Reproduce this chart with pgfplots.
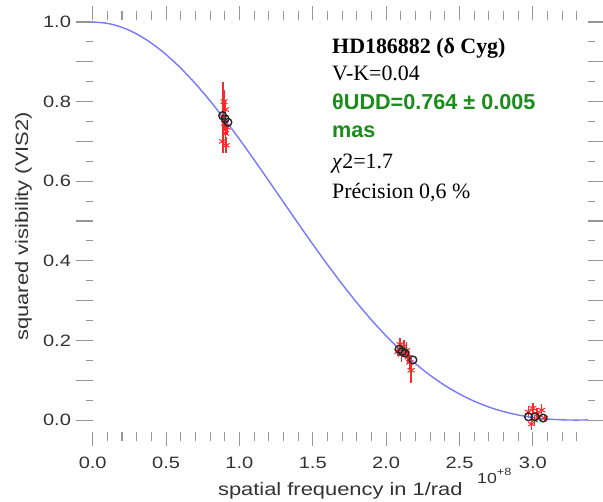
\documentclass[border=0pt]{standalone}
\usepackage{fontspec}
\setmainfont{Liberation Serif}
\newfontfamily\arial{Liberation Sans}
\newfontfamily\arialw[FakeStretch=1.22]{Liberation Sans}
\usepackage{pgfplots}
\pgfplotsset{compat=1.18}
\definecolor{curveblue}{RGB}{120,120,252}
\definecolor{tickgray}{RGB}{150,150,150}
\definecolor{labgray}{RGB}{50,50,50}
\definecolor{txtgreen}{RGB}{25,140,25}
\definecolor{datred}{RGB}{255,40,40}
\begin{document}
\begin{tikzpicture}
\begin{axis}[
  scale only axis, width=495.3bp, height=411.5bp,
  xmin=0, xmax=3.376, ymin=-0.030, ymax=1.0038,
  axis line style={draw=none},
  tick align=outside, tick pos=both,
  tick style={tickgray, line width=1.1bp},
  xtick={0,0.5,1.0,1.5,2.0,2.5,3.0},
  xticklabels={0.0,0.5,1.0,1.5,2.0,2.5,3.0},
  minor xtick={0.1,0.2,0.3,0.4,0.6,0.7,0.8,0.9,1.1,1.2,1.3,1.4,1.6,1.7,1.8,1.9,2.1,2.2,2.3,2.4,2.6,2.7,2.8,2.9,3.1,3.2,3.3},
  ytick={0,0.2,0.4,0.6,0.8,1.0},
  yticklabels={0.0,0.2,0.4,0.6,0.8,1.0},
  minor ytick={0.05,0.15,0.25,0.35,0.45,0.55,0.65,0.75,0.85,0.95},
  extra y ticks={0.1,0.3,0.5,0.7,0.9},
  extra y tick labels={},
  xtick style={/pgfplots/major tick length=14bp,/pgfplots/minor tick length=9bp},
  ytick style={/pgfplots/major tick length=17bp,/pgfplots/minor tick length=7bp},
  extra y tick style={/pgfplots/major tick length=12bp},
  xticklabel style={font=\arialw\fontsize{16.5}{16.5}\selectfont, text=labgray, yshift=-17.5bp},
  yticklabel style={font=\arialw\fontsize{16.5}{16.5}\selectfont, text=labgray, xshift=-14bp},
  xlabel={spatial frequency in 1/rad},
  ylabel={squared visibility (VIS2)},
  xlabel style={font=\arialw\fontsize{18}{18}\selectfont, text=labgray, at={(axis description cs:0.5,-0.1555)}, anchor=base},
  ylabel style={font=\arialw\fontsize{18}{18}\selectfont, text=labgray, at={(axis description cs:-0.1306,0.5)}, anchor=base, rotate=0},
]
\addplot[only marks, mark=asterisk, mark size=4bp, color=datred, mark options={draw=datred, line width=1bp},
  error bars/.cd, y dir=both, y explicit, error mark=none, error bar style={draw=datred, line width=1.6bp}]
  table[x=x, y=y, y error=e] {
x y e
0.890 0.760 0.090
0.895 0.800 0.030
0.885 0.700 0.025
0.905 0.720 0.030
0.900 0.745 0.020
0.915 0.735 0.020
0.905 0.780 0.025
0.910 0.690 0.020
2.080 0.172 0.012
2.095 0.190 0.015
2.105 0.165 0.020
2.120 0.185 0.015
2.140 0.175 0.020
2.150 0.158 0.015
2.170 0.125 0.032
2.160 0.145 0.020
2.970 0.020 0.015
2.990 -0.010 0.015
3.000 0.030 0.012
3.030 0.015 0.015
3.060 0.025 0.015
3.080 0.005 0.010
3.010 0.000 0.012
};
\addplot[curveblue, line width=1.4bp, smooth, no marks] table {
0 1.0
0.1 0.99662
0.2 0.98654
0.3 0.96992
0.4 0.94704
0.5 0.91830
0.6 0.88415
0.7 0.84516
0.8 0.80195
0.9 0.75520
1.0 0.70564
1.1 0.65401
1.2 0.60106
1.3 0.54754
1.4 0.49417
1.5 0.44164
1.6 0.39056
1.7 0.34153
1.8 0.29503
1.9 0.25150
2.0 0.21126
2.1 0.17458
2.2 0.14161
2.3 0.11245
2.4 0.08710
2.5 0.06548
2.6 0.04744
2.7 0.03280
2.8 0.02130
2.9 0.01266
3.0 0.00654
3.1 0.00263
3.2 0.00056
3.25 0.00012
3.29 0.0
3.33 0.00007
3.376 0.00041
};
\addplot[only marks, mark=o, mark size=3.8bp, mark options={draw=black!85, line width=1.4bp}] table {
0.885 0.765
0.903 0.757
0.922 0.748
2.088 0.178
2.110 0.172
2.129 0.168
2.183 0.151
2.970 0.008
3.015 0.008
3.070 0.005
};
\coordinate (ll) at (rel axis cs:0,0);
\coordinate (ur) at (rel axis cs:1,1);
\end{axis}
\node[anchor=base west, inner sep=0pt] at ([xshift=384.3bp,yshift=-51bp]ll)
  {\arialw\fontsize{14.5}{14.5}\selectfont\color{labgray}10\raisebox{8bp}{\fontsize{10.5}{10.5}\selectfont +8}};
\node[anchor=base west, inner sep=0pt] at ([xshift=239.3bp,yshift=378bp]ll)
  {\fontsize{22}{22}\selectfont\bfseries HD186882 (δ Cyg)};
\node[anchor=base west, inner sep=0pt] at ([xshift=239.3bp,yshift=351bp]ll)
  {\fontsize{22}{22}\selectfont V-K=0.04};
\node[anchor=base west, inner sep=0pt, text=txtgreen] at ([xshift=239.3bp,yshift=322bp]ll)
  {\arial\bfseries\fontsize{21.7}{21.7}\selectfont θUDD=0.764 ± 0.005};
\node[anchor=base west, inner sep=0pt, text=txtgreen] at ([xshift=239.3bp,yshift=294bp]ll)
  {\arial\bfseries\fontsize{21.7}{21.7}\selectfont mas};
\node[anchor=base west, inner sep=0pt] at ([xshift=239.3bp,yshift=263bp]ll)
  {\fontsize{22}{22}\selectfont\textit{χ}2=1.7};
\node[anchor=base west, inner sep=0pt] at ([xshift=239.3bp,yshift=233bp]ll)
  {\fontsize{22}{22}\selectfont Précision 0,6 \%};
\pgfresetboundingbox
\path[use as bounding box] ([xshift=-92.7bp,yshift=-70bp]ll) rectangle ([xshift=15bp,yshift=20.5bp]ur);
\end{tikzpicture}
\end{document}
